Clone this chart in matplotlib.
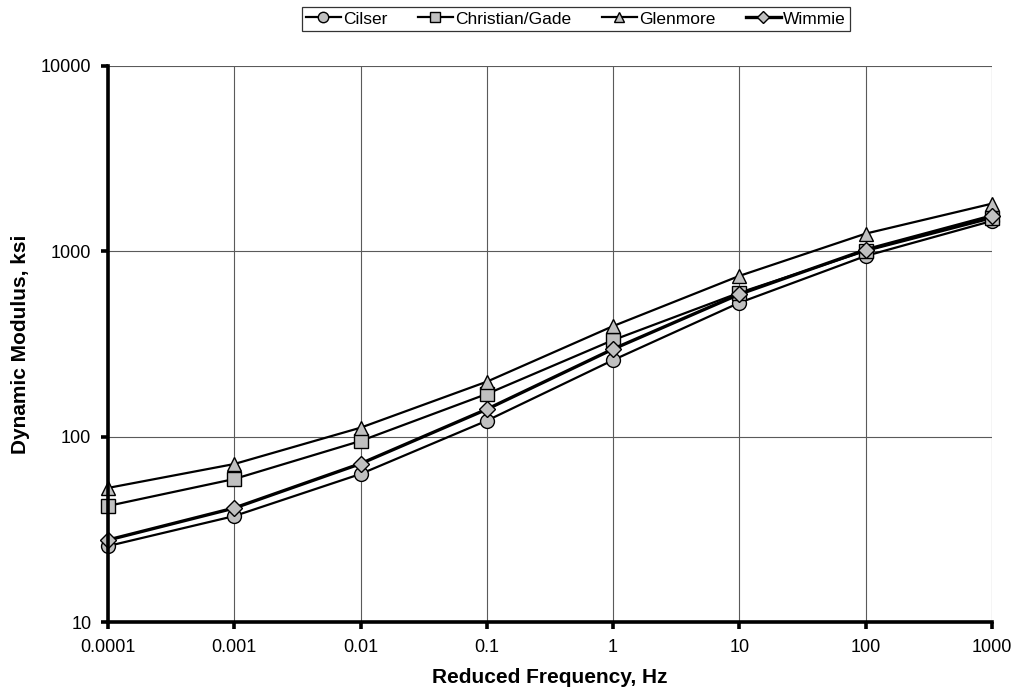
import numpy as np
import matplotlib.pyplot as plt
from matplotlib.ticker import FixedLocator, FixedFormatter, NullLocator

plt.rcParams['font.family'] = ['Liberation Sans', 'DejaVu Sans']

freq = [0.0001, 0.001, 0.01, 0.1, 1, 10, 100, 1000]
freq_labels = ['0.0001', '0.001', '0.01', '0.1', '1', '10', '100', '1000']

cilser = [25.7, 37.3, 62.9, 122, 259, 528, 944, 1459]
christian_gade = [42.3, 59.1, 94.8, 170, 332, 598, 1005, 1509]
glenmore = [52.9, 71.2, 111.8, 198, 395, 737, 1246, 1808]
wimmie = [27.7, 41.2, 71.5, 140.6, 297, 587, 1019, 1553]

y_ticks = [10, 100, 1000, 10000]
y_labels = ['10', '100', '1000', '10000']

fig = plt.figure(figsize=(10.15, 6.96), dpi=100)
ax = fig.add_axes([0.1064, 0.1063, 0.8709, 0.7989])

fill = '#c0c0c0'
kw = dict(color='black', markerfacecolor=fill, markeredgecolor='black',
          markeredgewidth=1.0, clip_on=False, zorder=3)
ax.plot(freq, cilser, marker='o', lw=1.6, ms=10, label='Cilser', **kw)
ax.plot(freq, christian_gade, marker='s', lw=1.6, ms=10, label='Christian/Gade', **kw)
ax.plot(freq, glenmore, marker='^', lw=1.6, ms=10.5, label='Glenmore', **kw)
ax.plot(freq, wimmie, marker='D', lw=2.4, ms=8.5, label='Wimmie', **kw)

ax.set_xscale('log')
ax.set_yscale('log')
ax.set_xlim(0.0001, 1000)
ax.set_ylim(10, 10000)

ax.xaxis.set_major_locator(FixedLocator(freq))
ax.xaxis.set_major_formatter(FixedFormatter(freq_labels))
ax.yaxis.set_major_locator(FixedLocator(y_ticks))
ax.yaxis.set_major_formatter(FixedFormatter(y_labels))
ax.xaxis.set_minor_locator(NullLocator())
ax.yaxis.set_minor_locator(NullLocator())

ax.grid(True, color='#5a5a5a', lw=0.8)
ax.set_axisbelow(True)

for s in ['top', 'right']:
    ax.spines[s].set_visible(False)
for s in ['left', 'bottom']:
    ax.spines[s].set_linewidth(2.6)
    ax.spines[s].set_zorder(4)
ax.tick_params(axis='both', direction='out', length=5, width=2.6,
               labelsize=13, pad=7)

ax.set_xlabel('Reduced Frequency, Hz', fontsize=15, fontweight='bold', labelpad=9)
ax.set_ylabel('Dynamic Modulus, ksi', fontsize=15, fontweight='bold', labelpad=8)

leg = ax.legend(loc='center', bbox_to_anchor=(576 / 1015, 1 - 19 / 696),
                bbox_transform=fig.transFigure, ncol=4, fontsize=12.5,
                frameon=True, fancybox=False, edgecolor='black',
                handlelength=2.0, handletextpad=0.15, columnspacing=1.75,
                borderpad=0.25, markerscale=0.75)
leg.get_frame().set_linewidth(0.9)

fig.savefig('out.png', dpi=100)
